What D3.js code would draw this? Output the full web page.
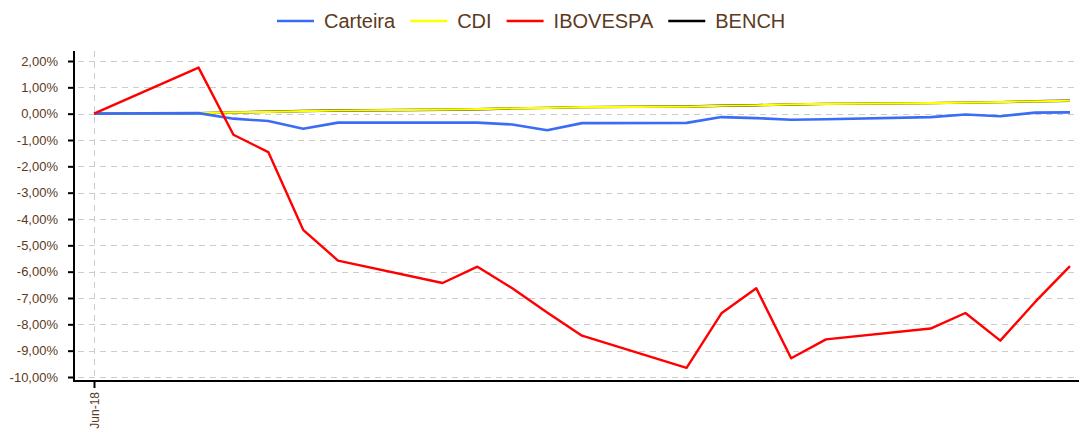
<!DOCTYPE html>
<html>
<head>
<meta charset="utf-8">
<script src="https://cdn.jsdelivr.net/npm/d3@7"></script>
<style>
  body { margin: 0; background: #fff; }
  svg { display: block; font-family: "Liberation Sans", Arial, sans-serif; }
</style>
</head>
<body>
<svg id="chart" width="1079" height="430"></svg>
<script>
// trading days, June 2018
var dates = ['2018-06-01','2018-06-04','2018-06-05','2018-06-06','2018-06-07','2018-06-08',
  '2018-06-11','2018-06-12','2018-06-13','2018-06-14','2018-06-15',
  '2018-06-18','2018-06-19','2018-06-20','2018-06-21','2018-06-22',
  '2018-06-25','2018-06-26','2018-06-27','2018-06-28','2018-06-29'];

// accumulated returns, in %
var carteira = [0, 0.02, -0.19, -0.28, -0.57, -0.34, -0.34, -0.34, -0.41, -0.63, -0.36,
  -0.35, -0.13, -0.17, -0.23, -0.21, -0.13, -0.03, -0.10, 0.04, 0.05];
var cdi = [0, 0.02, 0.05, 0.07, 0.10, 0.12, 0.15, 0.17, 0.20, 0.22, 0.25,
  0.27, 0.30, 0.32, 0.35, 0.37, 0.40, 0.42, 0.44, 0.47, 0.49];
var ibovespa = [0, 1.75, -0.80, -1.46, -4.41, -5.58, -6.43, -5.81, -6.63, -7.55, -8.43,
  -9.65, -7.58, -6.63, -9.29, -8.57, -8.16, -7.57, -8.62, -7.15, -5.79];
var bench = cdi.slice();

var yTicks = [2, 1, 0, -1, -2, -3, -4, -5, -6, -7, -8, -9, -10];
var seriesNames = ['Carteira', 'CDI', 'IBOVESPA', 'BENCH'];
var seriesColors = ['#3b6cf6', '#ffff00', '#ff0000', '#000000'];

var textColor = '#5c3a21';
var gridColor = '#cccccc';

var parse = d3.timeParse('%Y-%m-%d');
var days = dates.map(parse);

var svg = d3.select('#chart');

var x = d3.scaleTime()
  .domain([days[0], days[days.length - 1]])
  .range([94, 1070]);

var y = d3.scaleLinear()
  .domain([-10, 2])
  .range([377, 61]);

var ptBR = d3.formatLocale({decimal: ',', thousands: '.', grouping: [3], currency: ['R$', ''], minus: '-'});
var pct = function(d){ return ptBR.format('.2f')(d) + '%'; };

var plotLeft = 74, plotBottom = 381, plotTop = 51, plotRight = 1079;

// grid
var grid = svg.append('g').attr('class', 'grid');
grid.selectAll('line.h')
  .data(yTicks)
  .enter().append('line')
  .attr('x1', plotLeft).attr('x2', plotRight)
  .attr('y1', function(d){ return Math.round(y(d)) + 0.5; })
  .attr('y2', function(d){ return Math.round(y(d)) + 0.5; })
  .attr('stroke', gridColor)
  .attr('stroke-width', 1)
  .attr('stroke-dasharray', '6,5')
  .attr('stroke-dashoffset', -4);

grid.append('line')
  .attr('x1', Math.round(x(days[0])) + 0.5).attr('x2', Math.round(x(days[0])) + 0.5)
  .attr('y1', plotTop).attr('y2', plotBottom)
  .attr('stroke', gridColor)
  .attr('stroke-width', 1)
  .attr('stroke-dasharray', '6,5');

// lines, black bench under the yellow cdi
var line = d3.line()
  .x(function(d, i){ return x(days[i]); })
  .y(function(d){ return y(d); });

var drawOrder = [
  {values: bench, color: seriesColors[3], w: 2.4},
  {values: cdi, color: seriesColors[1], w: 2.2},
  {values: carteira, color: seriesColors[0], w: 2.6},
  {values: ibovespa, color: seriesColors[2], w: 2.4}
];
drawOrder.forEach(function(s){
  svg.append('path')
    .datum(s.values)
    .attr('d', line)
    .attr('fill', 'none')
    .attr('stroke', s.color)
    .attr('stroke-width', s.w)
    .attr('stroke-linejoin', 'round');
});

// y axis
var yAxis = svg.append('g')
  .attr('transform', 'translate(' + plotLeft + ',0)')
  .call(d3.axisLeft(y).tickValues(yTicks).tickFormat(pct).tickSize(6).tickPadding(10));
yAxis.select('.domain').remove();
yAxis.selectAll('.tick line').attr('stroke', '#000').attr('stroke-width', 2);
yAxis.selectAll('.tick text')
  .attr('fill', textColor)
  .style('font-size', '13px')
  .style('font-family', '"Liberation Sans", Arial, sans-serif');

// x axis
var xAxis = svg.append('g')
  .attr('transform', 'translate(0,' + plotBottom + ')')
  .call(d3.axisBottom(x).tickValues([days[0]]).tickFormat(d3.timeFormat('%b-%y')).tickSize(7));
xAxis.select('.domain').remove();
xAxis.selectAll('.tick line').attr('stroke', '#000').attr('stroke-width', 2);
xAxis.selectAll('.tick text')
  .attr('fill', textColor)
  .style('font-size', '12px')
  .style('font-family', '"Liberation Sans", Arial, sans-serif')
  .attr('transform', 'rotate(-90)')
  .attr('text-anchor', 'end')
  .attr('dy', '0.35em')
  .attr('x', -11)
  .attr('y', 0);

// axis lines
svg.append('line')
  .attr('x1', plotLeft).attr('x2', plotLeft)
  .attr('y1', plotTop).attr('y2', plotBottom + 1)
  .attr('stroke', '#000').attr('stroke-width', 2);
svg.append('line')
  .attr('x1', plotLeft - 1).attr('x2', plotRight)
  .attr('y1', plotBottom).attr('y2', plotBottom)
  .attr('stroke', '#000').attr('stroke-width', 2);

// legend
var legend = svg.append('g').attr('class', 'legend');
var lx = 277;
seriesNames.forEach(function(name, i){
  legend.append('line')
    .attr('x1', lx).attr('x2', lx + 37)
    .attr('y1', 21).attr('y2', 21)
    .attr('stroke', seriesColors[i])
    .attr('stroke-width', 2.5);
  var t = legend.append('text')
    .attr('x', lx + 47)
    .attr('y', 28)
    .attr('fill', textColor)
    .style('font-size', '20px')
    .text(name);
  lx += 47 + t.node().getComputedTextLength() + 15;
});
</script>
</body>
</html>
